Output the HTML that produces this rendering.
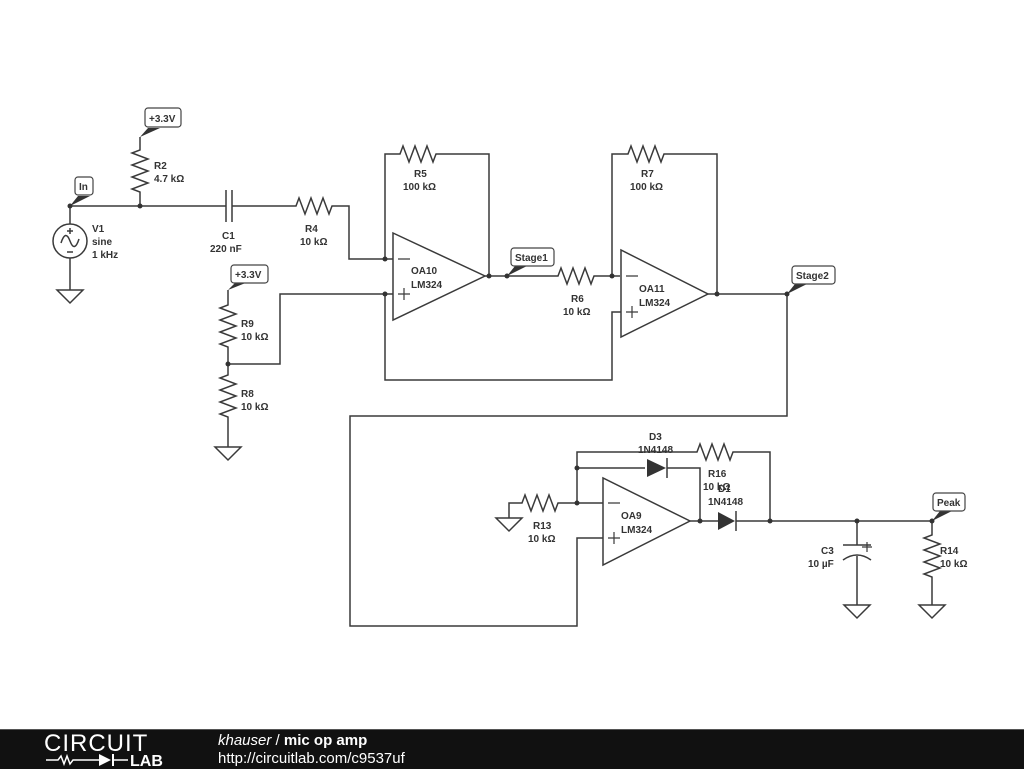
<!DOCTYPE html>
<html><head><style>
body{margin:0;background:#fff;width:1024px;height:768px;overflow:hidden;position:relative;font-family:"Liberation Sans",sans-serif}
svg text{font-family:"Liberation Sans",sans-serif;font-weight:bold;font-size:10px;fill:#333}
.f{position:absolute;left:0;top:729px;width:1024px;height:39px;background:#111;border-top:1px solid #555}
</style></head><body>
<svg width="1024" height="730" style="position:absolute;left:0;top:0">
<g fill="none" stroke="#3a3a3a" stroke-width="1.5">
<path d="M70 206V224M70 258V290"/><circle cx="70" cy="241" r="17"/>
<path d="M61 243q4.5-14 9-2t9-2M67 231h6M70 228v6M67 252h6"/>
<path d="M57 290H83L70 303Z"/>
<path d="M70 206H226M232 206H296l3-8 6 16 6-16 6 16 6-16 6 16 3-8H349V259H393"/>
<path d="M226 190V222M232 190V222"/>
<path d="M140 137V150l-8 3 16 6-16 6 16 6-16 6 16 6-16 6 8 3V206"/>
<path d="M228 290V305l-8 3 16 6-16 6 16 6-16 6 16 6-16 6 8 3V375l-8 3 16 6-16 6 16 6-16 6 16 6-16 6 8 3V447"/>
<path d="M215 447H241L228 460Z"/>
<path d="M228 364H280V294H393"/>
<path d="M393 233V320L485 276Z"/>
<path d="M385 259V154H400l3-8 6 16 6-16 6 16 6-16 6 16 3-8H489V276M485 276H558l3-8 6 16 6-16 6 16 6-16 6 16 3-8H620"/>
<path d="M621 250V337L708 294Z"/>
<path d="M612 276V154H628l3-8 6 16 6-16 6 16 6-16 6 16 3-8H717V294M708 294H787V416H350V626H577V538H603"/>
<path d="M621 312H612V380H385V294"/>
<path d="M603 478V565L690 521Z"/>
<path d="M509 518V503H522l3-8 6 16 6-16 6 16 6-16 6 16 3-8H603"/>
<path d="M496 518H522L509 531Z"/>
<path d="M577 503V452H697l3-8 6 16 6-16 6 16 6-16 6 16 3-8H770V521"/>
<path d="M577 468H645M667 468H700V521M690 521H718M736 521H932"/>
<path d="M667 458V478M736 511V531"/>
<path d="M857 521V545M857 556V605M843 545H871M843 560Q857 550 871 560"/>
<path d="M844 605H870L857 618Z"/>
<path d="M932 521V535l-8 3 16 6-16 6 16 6-16 6 16 6-16 6 8 3V605"/>
<path d="M919 605H945L932 618Z"/>
</g>
<g fill="none" stroke="#3a3a3a" stroke-width="1.2">
<path d="M398 259H410M398 294H410M404 288V300"/>
<path d="M626 276H638M626 312H638M632 306V318"/>
<path d="M608 503H620M608 538H620M614 532V544"/>
<path d="M862 547H872M867 542V552"/>
</g>
<g fill="#333">
<path d="M647 459V477L666 468Z"/><path d="M718 512V530L735 521Z"/>
<circle cx="70" cy="206" r="2.5"/><circle cx="140" cy="206" r="2.5"/><circle cx="228" cy="364" r="2.5"/>
<circle cx="385" cy="259" r="2.5"/><circle cx="385" cy="294" r="2.5"/><circle cx="489" cy="276" r="2.5"/>
<circle cx="507" cy="276" r="2.5"/><circle cx="612" cy="276" r="2.5"/><circle cx="717" cy="294" r="2.5"/>
<circle cx="787" cy="294" r="2.5"/><circle cx="577" cy="503" r="2.5"/><circle cx="577" cy="468" r="2.5"/>
<circle cx="700" cy="521" r="2.5"/><circle cx="770" cy="521" r="2.5"/><circle cx="857" cy="521" r="2.5"/><circle cx="932" cy="521" r="2.5"/>
<path d="M70 206L78 196H90Z"/><path d="M140 137L148 128H160Z"/><path d="M228 290L236 282H248Z"/>
<path d="M507 276L515 266H527Z"/><path d="M787 294L795 284H807Z"/><path d="M932 521L940 511H952Z"/>
</g>
<g fill="#fff" stroke="#444" stroke-width="1.2">
<rect x="75" y="177" width="18" height="18" rx="3"/>
<rect x="145" y="108" width="36" height="19" rx="3"/>
<rect x="231" y="265" width="37" height="18" rx="3"/>
<rect x="511" y="248" width="43" height="18" rx="3"/>
<rect x="792" y="266" width="43" height="18" rx="3"/>
<rect x="933" y="493" width="32" height="18" rx="3"/>
</g>
<text x="79" y="190">In</text><text x="149" y="122">+3.3V</text><text x="235" y="278">+3.3V</text>
<text x="515" y="261">Stage1</text><text x="796" y="279">Stage2</text><text x="937" y="506">Peak</text>
<text x="92" y="232">V1</text><text x="92" y="245">sine</text><text x="92" y="258">1 kHz</text>
<text x="154" y="169">R2</text><text x="154" y="182">4.7 kΩ</text>
<text x="222" y="239">C1</text><text x="210" y="252">220 nF</text>
<text x="305" y="232">R4</text><text x="300" y="245">10 kΩ</text>
<text x="241" y="327">R9</text><text x="241" y="340">10 kΩ</text>
<text x="241" y="397">R8</text><text x="241" y="410">10 kΩ</text>
<text x="414" y="177">R5</text><text x="403" y="190">100 kΩ</text>
<text x="641" y="177">R7</text><text x="630" y="190">100 kΩ</text>
<text x="571" y="302">R6</text><text x="563" y="315">10 kΩ</text>
<text x="411" y="274">OA10</text><text x="411" y="288">LM324</text>
<text x="639" y="292">OA11</text><text x="639" y="306">LM324</text>
<text x="621" y="519">OA9</text><text x="621" y="533">LM324</text>
<text x="533" y="529">R13</text><text x="528" y="542">10 kΩ</text>
<text x="649" y="440">D3</text><text x="638" y="453">1N4148</text>
<text x="708" y="477">R16</text><text x="703" y="490">10 kΩ</text>
<text x="718" y="492">D1</text><text x="708" y="505">1N4148</text>
<text x="821" y="554">C3</text><text x="808" y="567">10 µF</text>
<text x="940" y="554">R14</text><text x="940" y="567">10 kΩ</text>
</svg>
<div class="f">
<div style="position:absolute;left:44px;top:0px;color:#fff;font-size:24px;letter-spacing:1px">CIRCUIT</div>
<svg width="130" height="14" style="position:absolute;left:44px;top:23px">
<path d="M2 7H14l3-4 3 8 3-8 3 8 3-4H55M70 7H84" stroke="#fff" stroke-width="1.5" fill="none"/>
<path d="M55 1V13L67 7Z M68 1V13H70V1Z" fill="#fff"/>
<text x="86" y="13" style="fill:#fff;font-size:16px;font-weight:bold">LAB</text>
</svg>
<div style="position:absolute;left:218px;top:2px;color:#fff;font-size:15px"><i>khauser</i> / <b>mic op amp</b></div>
<div style="position:absolute;left:218px;top:20px;color:#fff;font-size:15px">http://circuitlab.com/c9537uf</div>
</div>
</body></html>
